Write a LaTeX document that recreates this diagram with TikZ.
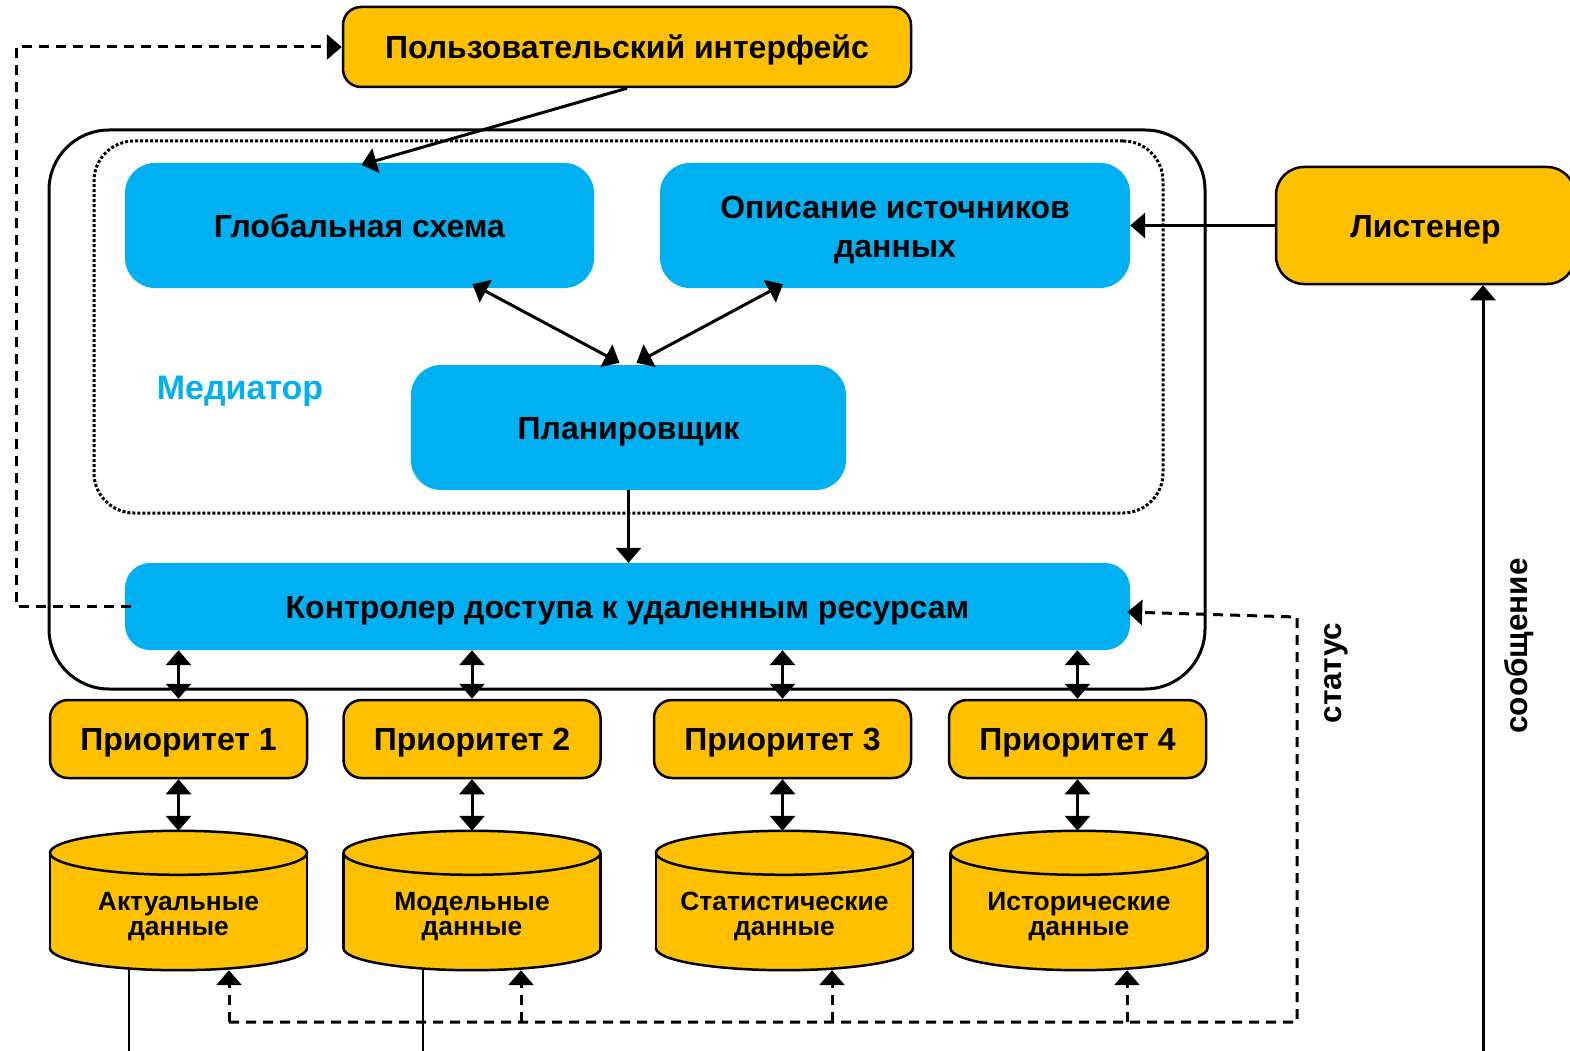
\documentclass[tikz,border=0pt]{standalone}
\usepackage{fontspec}
\setmainfont{Liberation Sans}
\usetikzlibrary{arrows.meta,calc}
\definecolor{orng}{HTML}{FFC000}
\definecolor{blu}{HTML}{00B0F0}
\newcommand\dbcyl[4]{%
  \node[minimum width=257pt,minimum height=139pt,inner sep=0pt] (#1) at (#2,#3) {};
  \filldraw[fill=orng,draw=black,line width=2.5pt] ($(#1.south)+(0,-22)$) ellipse[x radius=128.5pt,y radius=22pt];
  \fill[orng] ($(#1.north west)+(0,22)$) rectangle ($(#1.south east)+(0,-22)$);
  \draw[line width=2.5pt] ($(#1.north west)+(0,22)$) -- ($(#1.south west)+(0,-22)$);
  \draw[line width=2.5pt] ($(#1.north east)+(0,22)$) -- ($(#1.south east)+(0,-22)$);
  \filldraw[fill=orng,draw=black,line width=2.5pt] ($(#1.north)+(0,22)$) ellipse[x radius=128.5pt,y radius=22pt];
  \node[cyltext] (#1t) at ($(#1.center)+(0,16)$) {#4};
}
\begin{document}
\begin{tikzpicture}[x=1pt,y=-1pt,
  >={Triangle[width=25pt,length=15pt]},
  ybox/.style={draw=black,line width=2.5pt,fill=orng,rounded corners=18pt,inner sep=0pt,
    text height=23pt,text depth=0pt,
    font=\fontsize{32}{36}\selectfont\bfseries},
  bbox/.style={fill=blu,rounded corners=30pt,inner sep=0pt,align=center,
    text height=23pt,text depth=0pt,
    font=\fontsize{32}{39}\selectfont\bfseries},
  cyltext/.style={align=center,inner sep=0pt,font=\fontsize{26.4}{25}\selectfont\bfseries},
  conn/.style={line width=3pt},
  dconn/.style={line width=3pt,dash pattern=on 10pt off 7pt},
  vlabel/.style={rotate=90,inner sep=0pt,font=\fontsize{31.5}{34}\selectfont\bfseries}]
\useasboundingbox (0,0) rectangle (1570,1051);

% containers
\node[draw=black,line width=3pt,rounded corners=60pt,minimum width=1156pt,minimum height=559pt,inner sep=0pt] (outer) at (627,409.5) {};
\node[draw=black,line width=3pt,dotted,rounded corners=40pt,minimum width=1069pt,minimum height=372pt,inner sep=0pt] (inner) at (628.5,327) {};

% boxes
\node[ybox,minimum width=568pt,minimum height=80pt] (ui) at (627,47) {Пользовательский интерфейс};
\node[bbox,minimum width=469pt,minimum height=125pt] (gs) at (359.5,225.5) {Глобальная схема};
\node[bbox,minimum width=470pt,minimum height=125pt] (ods) at (895,225.5) {};
\node[inner sep=0pt,align=center,font=\fontsize{32}{39}\selectfont\bfseries] (odst) at (895,230.5) {Описание источников\\данных};
\node[inner sep=0pt,text=blu,text height=23pt,text depth=0pt,font=\fontsize{34}{36}\selectfont\bfseries] (med) at (240,388) {Медиатор};
\node[bbox,minimum width=435pt,minimum height=125pt] (pl) at (628.5,427.5) {Планировщик};
\node[bbox,rounded corners=25pt,minimum width=1005pt,minimum height=87pt] (ctrl) at (627.5,606.5) {Контролер доступа к удаленным ресурсам};
\node[ybox,rounded corners=28pt,minimum width=299pt,minimum height=117pt] (lst) at (1425.5,225.5) {Листенер};

\node[ybox,minimum width=257pt,minimum height=78pt] (p1) at (178.5,739) {Приоритет 1};
\node[ybox,minimum width=257pt,minimum height=78pt] (p2) at (472,739) {Приоритет 2};
\node[ybox,minimum width=257pt,minimum height=78pt] (p3) at (782.5,739) {Приоритет 3};
\node[ybox,minimum width=257pt,minimum height=78pt] (p4) at (1077.5,739) {Приоритет 4};

\dbcyl{c1}{178.5}{900.5}{Актуальные\\данные}
\dbcyl{c2}{472}{900.5}{Модельные\\данные}
\dbcyl{c3}{784.5}{900.5}{Статистические\\данные}
\dbcyl{c4}{1079}{900.5}{Исторические\\данные}

% connectors
\draw[conn,->] (ui.south) -- ($(gs.north)+(2,2)$);
\draw[conn,<->] ($(pl.north)+(-9,-2)$) -- ($(gs.south)+(113,-4)$);
\draw[conn,<->] ($(pl.north)+(8,-2)$) -- ($(ods.south)+(-112,-4)$);
\draw[conn,->] (pl.south) -- (pl.south |- ctrl.north);
\draw[conn,->] (lst.west) -- (ods.east);

\foreach \p/\c in {p1/c1,p2/c2,p3/c3,p4/c4}{
  \draw[conn,<->] (ctrl.south -| \p.north) -- (\p.north);
  \draw[conn,<->] (\p.south) -- (\p.south |- \c.north);
}

% message line
\coordinate (msg) at (1483,1051);
\draw[conn,->] (msg) -- (msg |- lst.south);
\node[vlabel] (msgl) at (1519,646) {сообщение};

% dashed feedback to UI
\coordinate (dl) at (16,606.5);
\draw[dconn,->] ($(ctrl.west)+(6,0)$) -- (dl) |- (ui.west);

% status line
\coordinate (s1) at (229,1022);
\coordinate (s2) at (521,1022);
\coordinate (s3) at (832,1022);
\coordinate (s4) at (1127,1022);
\coordinate (sc1) at (1297,1022);
\coordinate (sc2) at (1297,617);
\draw[dconn,->] (s1) -- (sc1) -- (sc2) -- ($(ctrl.east)+(-3,5.5)$);
\draw[dconn,->] (s1) -- (s1 |- c1.south);
\draw[dconn,->] (s2) -- (s2 |- c2.south);
\draw[dconn,->] (s3) -- (s3 |- c3.south);
\draw[dconn,->] (s4) -- (s4 |- c4.south);
\node[vlabel] (stl) at (1336,673) {статус};

% thin lines below databases
\coordinate (l1) at (129,1051);
\coordinate (l2) at (423,1051);
\draw[line width=1.5pt] (c1.south -| l1) -- (l1);
\draw[line width=1.5pt] (c2.south -| l2) -- (l2);
\end{tikzpicture}
\end{document}
